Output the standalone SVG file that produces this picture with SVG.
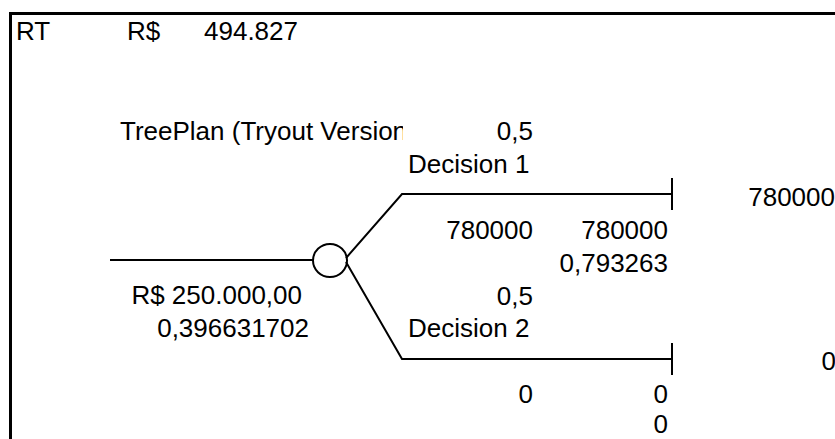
<svg xmlns="http://www.w3.org/2000/svg" width="835" height="439" viewBox="0 0 835 439">
<style>
text{font-family:"Liberation Sans",Arial,sans-serif;font-size:26px;fill:#000}
.e{text-anchor:end}
.ln{fill:none;stroke:#000;stroke-width:2}
</style>
<defs><clipPath id="c1"><rect x="0" y="100" width="403" height="60"/></clipPath></defs>
<rect width="835" height="439" fill="#fff"/>
<path d="M10.5,439 V13.5 H835" fill="none" stroke="#000" stroke-width="3"/>
<g id="header">
<text x="16" y="40">RT</text>
<text x="127" y="40">R$</text>
<text x="204" y="40">494.827</text>
</g>
<text x="120" y="140" clip-path="url(#c1)">TreePlan (Tryout Version)</text>
<g id="connectors">
<path class="ln" d="M110,260 H313"/>
<path class="ln" d="M346,258 L402,194 H672"/>
<path class="ln" d="M346,262 L402,359 H672"/>
<path class="ln" d="M672,178 V210 M672,343 V375"/>
</g>
<g id="chance">
<ellipse cx="330" cy="260.5" rx="17" ry="16.5" class="ln"/>
<text class="e" x="302" y="304">R$ 250.000,00</text>
<text class="e" x="309" y="337">0,396631702</text>
</g>
<g id="branch1">
<text class="e" x="533" y="140">0,5</text>
<text x="408" y="173">Decision 1</text>
<text class="e" x="533" y="239">780000</text>
<text class="e" x="668" y="239">780000</text>
<text class="e" x="668" y="272">0,793263</text>
<text class="e" x="835" y="206">780000</text>
</g>
<g id="branch2">
<text class="e" x="533" y="305">0,5</text>
<text x="408" y="337">Decision 2</text>
<text class="e" x="533" y="403">0</text>
<text class="e" x="668" y="403">0</text>
<text class="e" x="668" y="433">0</text>
<text class="e" x="836" y="370">0</text>
</g>
</svg>
